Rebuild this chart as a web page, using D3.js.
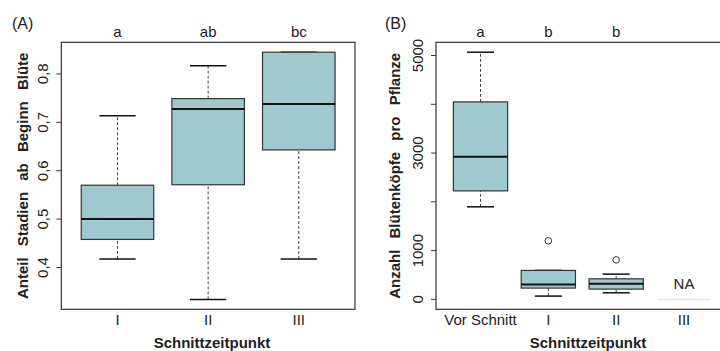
<!DOCTYPE html>
<html lang="de">
<head>
<meta charset="UTF-8">
<title>Boxplots Schnittzeitpunkt</title>
<script src="https://d3js.org/d3.v7.min.js"></script>
<style>
  body { margin: 0; background: #fff; }
  svg { display: block; font-family: "Liberation Sans", Arial, sans-serif; }
  .tick-label { font-size: 15px; fill: #222; }
  .axis-title { font-size: 15px; font-weight: bold; fill: #222; word-spacing: 7px; }
  .letter { font-size: 15px; fill: #222; }
  .panel-tag { font-size: 16px; fill: #222; }
</style>
</head>
<body>
<svg id="chart" width="720" height="351"></svg>
<script>
// Panel A: Anteil Stadien ab Beginn Blüte
const groupsA = ["I", "II", "III"];
const lowA = [0.4175, 0.334, 0.4175];
const q1A  = [0.458, 0.571, 0.643];
const medA = [0.500, 0.7275, 0.738];
const q3A  = [0.570, 0.749, 0.845];
const highA = [0.7136, 0.817, 0.845];
const lettersA = ["a", "ab", "bc"];
const ticksA = [0.4, 0.5, 0.6, 0.7, 0.8];

// Panel B: Anzahl Blütenköpfe pro Pflanze (III = NA)
const groupsB = ["Vor Schnitt", "I", "II", "III"];
const lowB = [1898, 68, 135, null];
const q1B  = [2225, 232, 211, null];
const medB = [2922, 307, 320, null];
const q3B  = [4049, 594, 422, null];
const highB = [5068, 594, 518, null];
const outliersB = [[], [1201], [811], []];
const lettersB = ["a", "b", "b", ""];
const ticksB = [0, 1000, 2000, 3000, 4000, 5000];
const tickLabelsB = [0, 1000, 3000, 5000];

const fill = "#9fc9cf";
const svg = d3.select("#chart");

function drawPanel(cfg) {
  const g = svg.append("g");
  const x = d3.scaleLinear().domain(cfg.xDomain).range([cfg.left, cfg.right]);
  const y = d3.scaleLinear().domain(cfg.yDomain).range([cfg.bottom, cfg.top]);
  const hw = 0.4, cw = 0.2;

  cfg.groups.forEach((name, i) => {
    const c = i + 1;
    if (cfg.med[i] == null) {
      // empty group: faint zero line + NA
      g.append("line")
        .attr("x1", x(c - hw)).attr("x2", x(c + hw))
        .attr("y1", y(0)).attr("y2", y(0))
        .attr("stroke", "#e4e4e4").attr("stroke-width", 1.5);
      g.append("text").attr("class", "tick-label")
        .attr("x", x(c)).attr("y", y(0) - 10)
        .attr("text-anchor", "middle").text("NA");
      return;
    }
    // whiskers
    [[cfg.low[i], cfg.q1[i]], [cfg.q3[i], cfg.high[i]]].forEach(([a, b]) => {
      if (a === b) return;
      g.append("line")
        .attr("x1", x(c)).attr("x2", x(c))
        .attr("y1", y(a)).attr("y2", y(b))
        .attr("stroke", "#444").attr("stroke-dasharray", "3,2");
    });
    [cfg.low[i], cfg.high[i]].forEach(v => {
      g.append("line")
        .attr("x1", x(c - cw)).attr("x2", x(c + cw))
        .attr("y1", y(v)).attr("y2", y(v))
        .attr("stroke", "#111").attr("stroke-width", 1.5);
    });
    // box
    g.append("rect")
      .attr("x", x(c - hw)).attr("width", x(c + hw) - x(c - hw))
      .attr("y", y(cfg.q3[i])).attr("height", y(cfg.q1[i]) - y(cfg.q3[i]))
      .attr("fill", fill).attr("stroke", "#333").attr("stroke-width", 1.2);
    g.append("line")
      .attr("x1", x(c - hw)).attr("x2", x(c + hw))
      .attr("y1", y(cfg.med[i])).attr("y2", y(cfg.med[i]))
      .attr("stroke", "#111").attr("stroke-width", 2);
    // outliers
    (cfg.out ? cfg.out[i] : []).forEach(v => {
      g.append("circle")
        .attr("cx", x(c)).attr("cy", y(v)).attr("r", 3.3)
        .attr("fill", "none").attr("stroke", "#333").attr("stroke-width", 1);
    });
  });

  // frame
  g.append("rect")
    .attr("x", cfg.left).attr("y", cfg.top)
    .attr("width", cfg.frameRight - cfg.left).attr("height", cfg.bottom - cfg.top)
    .attr("fill", "none").attr("stroke", "#333").attr("stroke-width", 1.2);

  // y ticks
  cfg.ticks.forEach(t => {
    g.append("line")
      .attr("x1", cfg.left - 5).attr("x2", cfg.left)
      .attr("y1", y(t)).attr("y2", y(t))
      .attr("stroke", "#333");
  });
  cfg.tickLabels.forEach(t => {
    g.append("text").attr("class", "tick-label")
      .attr("transform", `translate(${cfg.left - 13},${y(t)}) rotate(-90)`)
      .attr("text-anchor", "middle")
      .text(cfg.fmt(t));
  });

  // x labels and letters
  cfg.groups.forEach((name, i) => {
    g.append("text").attr("class", "tick-label")
      .attr("x", x(i + 1)).attr("y", 325)
      .attr("text-anchor", "middle").text(name);
    g.append("text").attr("class", "letter")
      .attr("x", x(i + 1)).attr("y", 37)
      .attr("text-anchor", "middle").text(cfg.letters[i]);
  });

  // titles
  g.append("text").attr("class", "axis-title")
    .attr("x", cfg.titleX).attr("y", 348)
    .attr("text-anchor", "middle").text("Schnittzeitpunkt");
  g.append("text").attr("class", "axis-title")
    .attr("transform", `translate(${cfg.yTitleX},${(cfg.top + cfg.bottom) / 2}) rotate(-90)`)
    .attr("text-anchor", "middle").text(cfg.yTitle);
  g.append("text").attr("class", "panel-tag")
    .attr("x", cfg.tagX).attr("y", 29).text(cfg.tag);
}

drawPanel({
  groups: groupsA, low: lowA, q1: q1A, med: medA, q3: q3A, high: highA,
  letters: lettersA, ticks: ticksA, tickLabels: ticksA,
  fmt: d => d3.format(".1f")(d).replace(".", ","),
  xDomain: [0.38, 3.62], left: 61.3, right: 355, frameRight: 355,
  yDomain: [0.3136, 0.8654], top: 42.3, bottom: 309.3,
  titleX: 212, yTitleX: 28, yTitle: "Anteil Stadien ab Beginn Blüte",
  tag: "(A)", tagX: 12
});

drawPanel({
  groups: groupsB, low: lowB, q1: q1B, med: medB, q3: q3B, high: highB, out: outliersB,
  letters: lettersB, ticks: ticksB, tickLabels: tickLabelsB,
  fmt: d => String(d),
  xDomain: [0.344, 4.656], left: 436, right: 728.5, frameRight: 740,
  yDomain: [-203, 5271], top: 42.3, bottom: 309.3,
  titleX: 588, yTitleX: 400, yTitle: "Anzahl Blütenköpfe pro Pflanze",
  tag: "(B)", tagX: 385
});
</script>
</body>
</html>
